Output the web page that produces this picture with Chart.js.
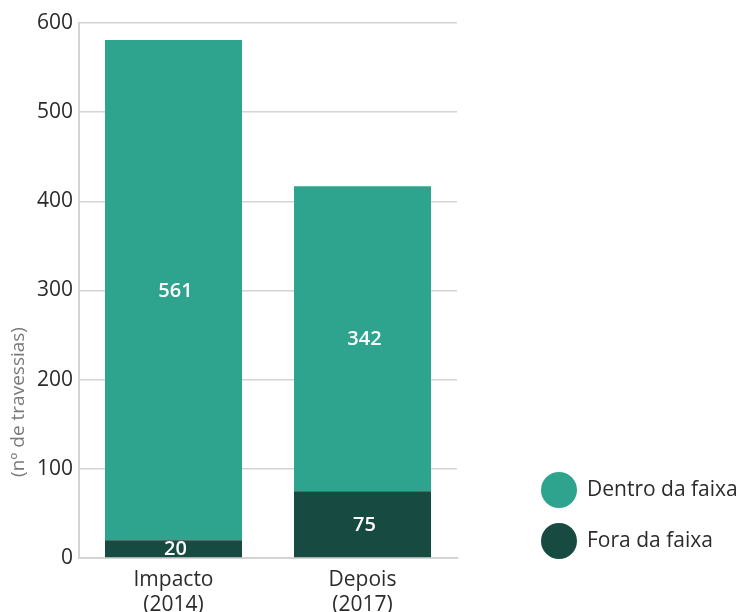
<!DOCTYPE html>
<html>
<head>
<meta charset="utf-8">
<script src="https://cdn.jsdelivr.net/npm/chart.js@4"></script>
<style>
  html, body { margin: 0; padding: 0; background: #fff; }
  #wrap { width: 754px; height: 612px; }
</style>
</head>
<body>
<div id="wrap"><canvas id="chart" width="754" height="612"></canvas></div>
<script>
const categories = [['Impacto', '(2014)'], ['Depois', '(2017)']];
const dentroValues = [561, 342];
const foraValues = [20, 75];
const seriesNames = ['Dentro da faixa', 'Fora da faixa'];
const yTicks = [0, 100, 200, 300, 400, 500, 600];
const yTitle = '(nº de travessias)';

const lightColor = '#2ea38d';
const darkColor = '#174b42';
const fontFamily = '"Open Sans", "Noto Sans", sans-serif';

// draws the numbers inside each bar segment
const segmentLabels = {
    id: 'segmentLabels',
    afterDatasetsDraw(chart) {
        const ctx = chart.ctx;
        ctx.save();
        ctx.fillStyle = '#ffffff';
        ctx.font = '600 20px ' + fontFamily;
        ctx.textAlign = 'center';
        ctx.textBaseline = 'middle';
        chart.data.datasets.forEach((ds, i) => {
            chart.getDatasetMeta(i).data.forEach((bar, j) => {
                const mid = (bar.y + bar.base) / 2;
                ctx.fillText(ds.data[j], bar.x + 2, mid + 1);
            });
        });
        ctx.restore();
    }
};

// rotated axis title and the circle legend on the right
const extras = {
    id: 'extras',
    afterDraw(chart) {
        const ctx = chart.ctx;
        ctx.save();
        ctx.translate(19, 402);
        ctx.rotate(-Math.PI / 2);
        ctx.fillStyle = '#7a7a7a';
        ctx.font = '19px ' + fontFamily;
        ctx.textAlign = 'center';
        ctx.textBaseline = 'middle';
        ctx.fillText(yTitle, 0, 0);
        ctx.restore();

        ctx.save();
        ctx.font = '21px ' + fontFamily;
        ctx.textBaseline = 'middle';
        ctx.textAlign = 'left';
        const colors = [lightColor, darkColor];
        seriesNames.forEach((name, i) => {
            const cy = 490 + i * 51;
            ctx.fillStyle = colors[i];
            ctx.beginPath();
            ctx.arc(559, cy, 18, 0, Math.PI * 2);
            ctx.fill();
            ctx.fillStyle = '#2b2b2b';
            ctx.fillText(name, 587, cy);
        });
        ctx.restore();
    }
};

new Chart(document.getElementById('chart'), {
    type: 'bar',
    data: {
        labels: categories,
        datasets: [
            {
                label: seriesNames[1],
                data: foraValues,
                backgroundColor: darkColor,
                barPercentage: 0.725,
                categoryPercentage: 1
            },
            {
                label: seriesNames[0],
                data: dentroValues,
                backgroundColor: lightColor,
                barPercentage: 0.725,
                categoryPercentage: 1
            }
        ]
    },
    options: {
        responsive: false,
        animation: false,
        layout: { padding: { top: 23, right: 297, left: 0, bottom: 0 } },
        plugins: {
            legend: { display: false },
            tooltip: { enabled: false }
        },
        scales: {
            x: {
                stacked: true,
                grid: { display: false },
                border: { color: '#d4d4d4', width: 2 },
                ticks: {
                    color: '#2b2b2b',
                    font: { family: fontFamily, size: 21 },
                    padding: 1,
                    maxRotation: 0
                },
                afterFit(scale) { scale.height = 54; }
            },
            y: {
                stacked: true,
                min: 0,
                max: 600,
                afterBuildTicks(scale) { scale.ticks = yTicks.map(v => ({ value: v })); },
                grid: { color: '#d4d4d4', lineWidth: 1.5, drawTicks: false },
                border: { color: '#d4d4d4', width: 2 },
                ticks: {
                    color: '#2b2b2b',
                    font: { family: fontFamily, size: 21 },
                    padding: 6
                },
                afterFit(scale) { scale.width = 79; }
            }
        }
    },
    plugins: [segmentLabels, extras]
});
</script>
</body>
</html>
